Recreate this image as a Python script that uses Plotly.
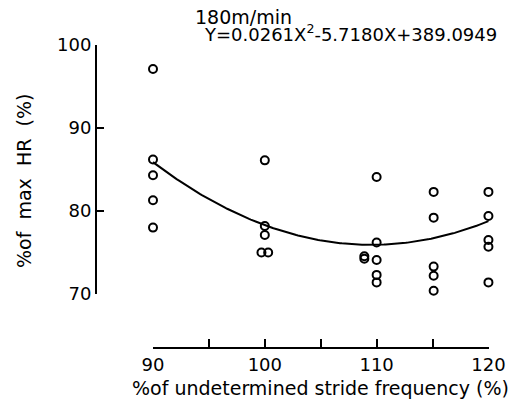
import numpy as np
import plotly.graph_objects as go

# Data
x_points = [90, 90, 90, 90, 90,
            100, 100, 100, 99.7, 100.3,
            110, 110, 110, 110, 110,
            108.9, 108.9,
            115.1, 115.1, 115.1, 115.1, 115.1,
            120, 120, 120, 120, 120]
y_points = [97.1, 86.2, 84.3, 81.3, 78.0,
            86.1, 78.2, 77.1, 75.0, 75.0,
            84.1, 76.2, 74.1, 72.3, 71.4,
            74.55, 74.25,
            82.3, 79.2, 73.3, 72.2, 70.4,
            82.3, 79.4, 76.5, 75.7, 71.4]

# Regression stated on the chart: Y = 0.0261 X^2 - 5.7180 X + 389.0949
coef_a, coef_b, coef_c = 0.0261, -5.7180, 389.0949
fit_x_start, fit_x_end = 90, 120

x_tickvals = [90, 95, 100, 105, 110, 115, 120]
x_ticktext = ["90", "", "100", "", "110", "", "120"]
y_tickvals = [70, 80, 90, 100]
y_ticktext = ["70", "80", "90", "100"]

fit_x = np.linspace(fit_x_start, fit_x_end, 200)
fit_y = coef_a * fit_x**2 + coef_b * fit_x + coef_c

FONT = "DejaVu Sans"
AXIS_COLOR = "black"

# paper area in screen pixels (page body adds an 8px offset)
P_L, P_R, P_T, P_B = 96, 489, 45, 348
P_W, P_H = P_R - P_L, P_B - P_T
def px(sx):
    return (sx - P_L) / P_W
def py(sy):
    return (P_B - sy) / P_H

fig = go.Figure()
fig.add_trace(go.Scatter(x=fit_x, y=fit_y, mode="lines", cliponaxis=False,
                         line=dict(color="black", width=2), hoverinfo="skip"))
fig.add_trace(go.Scatter(x=x_points, y=y_points, mode="markers", cliponaxis=False,
                         marker=dict(symbol="circle-open", size=8, color="black",
                                     line=dict(width=2, color="black"))))

fig.update_layout(
    width=519, height=401,
    margin=dict(l=P_L - 8, r=519 - (P_R - 8), t=P_T - 8, b=401 - (P_B - 8)),
    paper_bgcolor="white", plot_bgcolor="white",
    showlegend=False,
    font=dict(family=FONT, color="black", size=18),
    xaxis=dict(range=[90, 120.05], domain=[px(153), 1], anchor="free", position=0,
               showgrid=False, zeroline=False,
               showline=True, linecolor=AXIS_COLOR, linewidth=2,
               tickvals=x_tickvals, ticktext=x_ticktext,
               ticks="inside", ticklen=8, tickwidth=2, tickcolor=AXIS_COLOR,
               tickfont=dict(family=FONT, size=18)),
    yaxis=dict(range=[70, 100], domain=[py(294), 1], anchor="free", position=0,
               showgrid=False, zeroline=False,
               showline=True, linecolor=AXIS_COLOR, linewidth=2,
               tickvals=y_tickvals, ticktext=y_ticktext,
               ticks="inside", ticklen=7, tickwidth=2, tickcolor=AXIS_COLOR,
               ticksuffix="\u00a0\u00a0",
               tickfont=dict(family=FONT, size=18)),
    annotations=[
        dict(text="180m/min", xref="paper", yref="paper", x=px(193), y=py(17),
             xanchor="left", yanchor="middle", showarrow=False,
             font=dict(family=FONT, size=19)),
        dict(text="Y=0.0261X<sup>2</sup>-5.7180X+389.0949", xref="paper", yref="paper",
             x=px(202), y=py(33), xanchor="left", yanchor="middle", showarrow=False,
             font=dict(family=FONT, size=18)),
        dict(text="%of\u00a0 max\u00a0 HR\u00a0 (%)", xref="paper", yref="paper",
             x=px(24), y=py(181), textangle=-90,
             xanchor="center", yanchor="middle", showarrow=False,
             font=dict(family=FONT, size=19)),
        dict(text="%of undetermined stride frequency (%)", xref="paper", yref="paper",
             x=px(320), y=py(388),
             xanchor="center", yanchor="middle", showarrow=False,
             font=dict(family=FONT, size=19)),
    ],
)

fig.write_html("out.html")
